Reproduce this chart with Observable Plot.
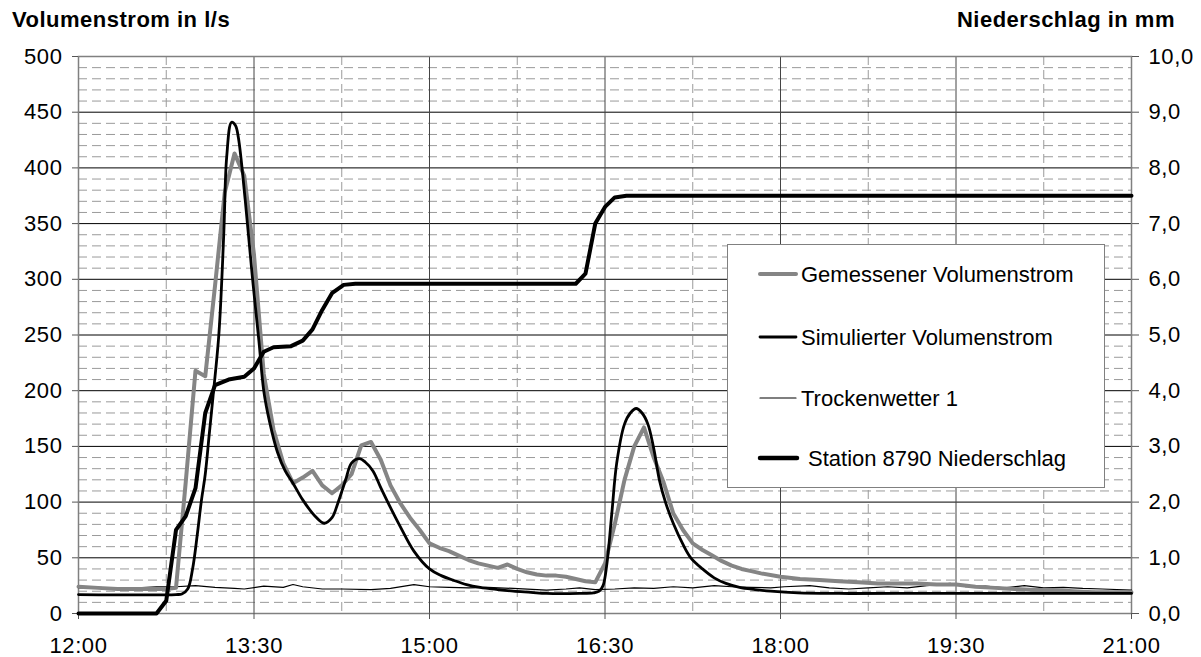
<!DOCTYPE html>
<html><head><meta charset="utf-8">
<script src="https://cdn.jsdelivr.net/npm/d3@7"></script>
<script src="https://cdn.jsdelivr.net/npm/@observablehq/plot@0.6"></script>
<style>
body{margin:0;background:#fff;font-family:"Liberation Sans",Arial,sans-serif;}
#wrap{position:relative;width:1201px;height:657px;overflow:hidden;}
.title{position:absolute;font-weight:bold;font-size:22px;letter-spacing:0.5px;line-height:22px;white-space:nowrap;color:#000;}
#legend{position:absolute;left:727px;top:244px;width:378px;height:244px;border:1px solid #808080;background:#fff;box-sizing:border-box;}
</style></head><body><div id="wrap"></div>
<script>
// ---- data (time = minutes after 12:00) ----
const xTickLabels = ["12:00","13:30","15:00","16:30","18:00","19:30","21:00"];
const yTicks = [0,50,100,150,200,250,300,350,400,450,500];
const rightTickLabels = ["0,0","1,0","2,0","3,0","4,0","5,0","6,0","7,0","8,0","9,0","10,0"];
const seriesNames = ["Gemessener Volumenstrom","Simulierter Volumenstrom","Trockenwetter 1","Station 8790 Niederschlag"];

const tMeasured = [0,10,20,30,40,45,50,55,60,65,70,75,80,85,90,95,100,105,110,115,120,125,130,135,140,145,150,155,160,165,170,175,180,185,190,195,200,205,210,215,220,225,230,235,240,245,250,255,260,265,270,275,280,285,290,295,300,305,310,315,320,325,330,335,340,345,350,360,370,380,390,400,410,420,430,440,450,460,470,480,490,500,510,520,530,540];
const vMeasured = [24,23,22,22,22,22,23,118,218,213,294,378,413,393,322,215,165,135,117,122,128,115,108,115,125,151,154,138,115,99,86,75,63,59,56,52,48,45,43,41,44,40,37,35,34,34,33,31,29,28,45,80,120,150,167,140,118,90,75,63,57,52,47,43,40,38,36,33,31,30,29,28,27,27,27,26,26,24,23,22,21,21,20,19,19,19];

const tSimulated = [0,50,53,56,58.5,61,63,65,67,69,72,74.5,76,78.5,80.5,82,85.5,89,92.5,95,98,102,106,110,115,121,126,130,133,137,140,144,147,151,155,160,165,172,180,186,192,199,206,215,223,232,240,257,264,267,269,271,273.5,276,280,283,286,289,292,295,298,301,305,310,314,320,326,332,339,347,355,369,390,420,540];
const vSimulated = [17,17,17.5,22,40,72,101,125,160,195,251,341,410,441,438,427,371,305,245,200,172,145,128,117,102,88,81,86,99,120,135,139,136,128,113,95,78,56,40,34,30,26,23.5,21.5,20,19,18,18,18.5,20,25,45,90,135,170,180,184,180,170,148,119,100,81,62,50,40,32,27,23.5,21.5,20,18.5,18,18,18];

const tDry = [0,10,20,30,40,50,60,70,80,85,95,105,110,115,125,135,150,160,172,180,190,200,210,223,240,250,257,265,275,285,295,305,315,326,335,345,355,362,375,385,395,405,415,425,435,447,455,465,475,485,495,505,515,525,540];
const vDry = [23,23.5,22.5,23,24,24,25,23.5,22.5,22,24.5,23.5,26,24,22,22,21.5,22.5,26,24,23.5,23,23.5,22.5,21,22,23,21.5,22,23,22.5,24,23,25,24,23.5,23,24,25,23,22,23,24,23,25,27,24,24.5,23,25,23,23.5,22.5,22,21];

const tRain = [0,40,45,50,55,60,65,70,77,85,90,95,100,109,115,120,125,130,136,142,255,260,265,270,275,281,540];
const mmRain = [0,0,0.23,1.5,1.75,2.25,3.6,4.1,4.2,4.25,4.4,4.7,4.78,4.8,4.9,5.1,5.45,5.75,5.9,5.92,5.92,6.1,7.0,7.3,7.47,7.5,7.5];

// ---- helpers ----
const toMin = s => { const [h,m] = s.split(":").map(Number); return (h-12)*60 + m; };
const rows = (t, v) => t.map((x,i) => ({t:x, v:v[i]}));
const xMajor = xTickLabels.map(toMin);
const xMinor = d3.range(45, 540, 90);
const yMinor = d3.range(10, 500, 10).filter(d => d % 50 !== 0);
const yMajor = yTicks.slice(1, -1);
const mmPerUnit = 500 / 10;

const plot = Plot.plot({
  width: 1201, height: 657,
  marginLeft: 78, marginRight: 70, marginTop: 56, marginBottom: 44,
  style: {fontFamily: "'Liberation Sans', Arial, sans-serif", fontSize: "22px", letterSpacing: "0.6px", background: "#fff", color: "#000"},
  x: {domain: [0, 540]},
  y: {domain: [0, 500]},
  marks: [
    Plot.ruleY(yMinor, {stroke: "#9a9a9a", strokeDasharray: "9,5", strokeWidth: 1}),
    Plot.ruleX(xMinor, {stroke: "#9a9a9a", strokeDasharray: "9,5", strokeWidth: 1}),
    Plot.ruleY(yMajor, {stroke: "#000", strokeWidth: 1}),
    Plot.ruleX(xMajor.slice(1, -1), {stroke: "#444", strokeWidth: 1}),
    Plot.frame({stroke: "#808080", strokeWidth: 1.5}),
    Plot.axisY(yTicks, {anchor: "left", tickSize: 6, tickPadding: 10, label: null, stroke: "#555"}),
    Plot.axisY(yTicks, {anchor: "right", tickSize: 7, tickPadding: 10, label: null, stroke: "#555",
      tickFormat: d => rightTickLabels[yTicks.indexOf(d)]}),
    Plot.axisX(xMajor, {anchor: "bottom", tickSize: 6, tickPadding: 18, label: null, stroke: "#555",
      tickFormat: d => xTickLabels[xMajor.indexOf(d)]}),
    Plot.line(rows(tDry, vDry), {x: "t", y: "v", stroke: "#000", strokeWidth: 1.2}),
    Plot.line(rows(tMeasured, vMeasured), {x: "t", y: "v", stroke: "#858585", strokeWidth: 4, strokeLinejoin: "round"}),
    Plot.line(rows(tSimulated, vSimulated), {x: "t", y: "v", stroke: "#000", strokeWidth: 2.8, curve: "catmull-rom"}),
    Plot.line(rows(tRain, mmRain), {x: "t", y: d => d.v * mmPerUnit, stroke: "#000", strokeWidth: 4, strokeLinejoin: "round"})
  ]
});

const wrap = document.getElementById("wrap");
wrap.appendChild(plot);

const tl = document.createElement("div");
tl.className = "title"; tl.style.left = "12px"; tl.style.top = "9px";
tl.textContent = "Volumenstrom in l/s";
wrap.appendChild(tl);
const tr = document.createElement("div");
tr.className = "title"; tr.style.right = "26px"; tr.style.top = "9px";
tr.textContent = "Niederschlag in mm";
wrap.appendChild(tr);

// legend
const leg = document.createElement("div");
leg.id = "legend";
wrap.appendChild(leg);
const styles = [
  {stroke: "#858585", w: 4, x1: 32, x2: 68, tx: 73},
  {stroke: "#000", w: 2.8, x1: 32, x2: 68, tx: 73},
  {stroke: "#000", w: 1.2, x1: 32, x2: 68, tx: 73},
  {stroke: "#000", w: 4.5, x1: 32, x2: 69, tx: 80}
];
const rowY = [29, 92, 153, 213];
const lsvg = d3.select(leg).append("svg").attr("width", 376).attr("height", 242)
  .style("position","absolute").style("left","0").style("top","0");
seriesNames.forEach((name, i) => {
  const s = styles[i];
  lsvg.append("line").attr("x1", s.x1).attr("x2", s.x2).attr("y1", rowY[i]).attr("y2", rowY[i])
    .attr("stroke", s.stroke).attr("stroke-width", s.w).attr("stroke-linecap", "round");
  lsvg.append("text").attr("x", s.tx).attr("y", rowY[i]).attr("dy", "0.35em")
    .attr("font-family", "'Liberation Sans', Arial, sans-serif").attr("font-size", 22).text(name);
});
</script></body></html>
